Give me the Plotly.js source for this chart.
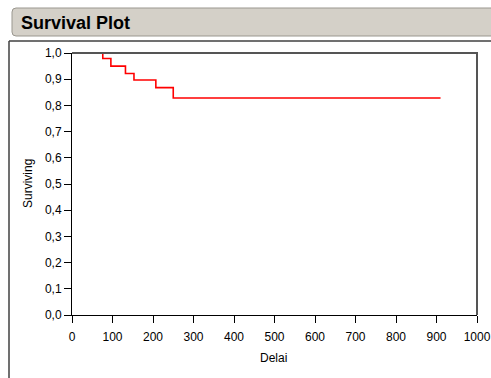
<!DOCTYPE html>
<html>
<head>
<meta charset="utf-8">
<script src="https://cdn.plot.ly/plotly-3.0.1.min.js"></script>
<style>html,body{margin:0;padding:0;background:#fff;}#chart{width:491px;height:378px;}</style>
</head>
<body>
<div id="chart"></div>
<script>
// Data
const delai = [76, 96, 132, 153, 207, 250, 910];
const surviving = [0.979, 0.950, 0.922, 0.897, 0.868, 0.828, 0.828];
const xTicks = [0, 100, 200, 300, 400, 500, 600, 700, 800, 900, 1000];
const yTicks = [0, 0.1, 0.2, 0.3, 0.4, 0.5, 0.6, 0.7, 0.8, 0.9, 1.0];

// step curve starting at 1.0 at the first time
const xs = [delai[0]].concat(delai);
const ys = [1.0].concat(surviving);

const L = 72, R = 477, T = 53, B = 315, W = 491, H = 378;
const px = v => (v - L) / (R - L);
const py = v => (B - v) / (B - T);

// rounded rectangle path in paper coords from pixel box
function roundRect(x0, y0, x1, y1, r) {
  const P = (x, y) => px(x) + ',' + py(y);
  return 'M' + P(x0 + r, y0) + ' L' + P(x1 - r, y0) + ' Q' + P(x1, y0) + ' ' + P(x1, y0 + r) +
    ' L' + P(x1, y1 - r) + ' Q' + P(x1, y1) + ' ' + P(x1 - r, y1) +
    ' L' + P(x0 + r, y1) + ' Q' + P(x0, y1) + ' ' + P(x0, y1 - r) +
    ' L' + P(x0, y0 + r) + ' Q' + P(x0, y0) + ' ' + P(x0 + r, y0) + ' Z';
}

const trace = {
  x: xs, y: ys, type: 'scatter', mode: 'lines',
  line: {shape: 'hv', color: '#ff0000', width: 1.6},
  hoverinfo: 'skip', cliponaxis: false
};

const FONT = 'Liberation Sans, Arial, sans-serif';

const layout = {
  width: W, height: H,
  margin: {l: L, r: W - R, t: T, b: H - B, pad: 0},
  paper_bgcolor: '#ffffff', plot_bgcolor: '#ffffff',
  separators: ',.',
  showlegend: false,
  font: {family: FONT, size: 12, color: '#000'},
  xaxis: {
    range: [0, 1000], tickvals: xTicks, ticktext: xTicks.map(String),
    ticks: 'outside', ticklen: 7, tickcolor: '#000', tickwidth: 1,
    ticklabelstandoff: 4,
    showline: true, linecolor: '#000', linewidth: 1, showgrid: false, zeroline: false,
    tickfont: {size: 12, color: '#000'}
  },
  yaxis: {
    range: [0, 1], tickvals: yTicks, tickformat: '.1f',
    ticks: 'outside', ticklen: 7, tickcolor: '#000', tickwidth: 1,
    showline: true, linecolor: '#000', linewidth: 1, showgrid: false, zeroline: false,
    tickfont: {size: 12, color: '#000'}
  },
  shapes: [
    // title bar
    {type: 'path', xref: 'paper', yref: 'paper', path: roundRect(12, 8, 505, 36, 4),
     fillcolor: '#d4d0c8', line: {color: '#9a978f', width: 1}, layer: 'below'},
    // outer frame
    {type: 'line', xref: 'paper', yref: 'paper', x0: px(9), x1: px(495), y0: py(41), y1: py(41),
     line: {color: '#404040', width: 1.5}},
    {type: 'line', xref: 'paper', yref: 'paper', x0: px(9), x1: px(9), y0: py(41), y1: py(380),
     line: {color: '#404040', width: 1.5}},
    // plot frame top and right
    {type: 'line', xref: 'paper', yref: 'paper', x0: px(72), x1: px(478), y0: py(53), y1: py(53),
     line: {color: '#555555', width: 2}},
    {type: 'line', xref: 'paper', yref: 'paper', x0: px(477), x1: px(477), y0: py(53), y1: py(315),
     line: {color: '#555555', width: 2}}
  ],
  annotations: [
    {text: '<b>Survival Plot</b>', xref: 'paper', yref: 'paper', x: px(19), y: py(23),
     xanchor: 'left', yanchor: 'middle', showarrow: false,
     font: {family: FONT, size: 18, color: '#000'}},
    {text: 'Delai', xref: 'paper', yref: 'paper', x: px(273), y: py(358),
     xanchor: 'center', yanchor: 'middle', showarrow: false,
     font: {family: FONT, size: 12, color: '#000'}},
    {text: 'Surviving', xref: 'paper', yref: 'paper', x: px(28), y: py(184), textangle: -90,
     xanchor: 'center', yanchor: 'middle', showarrow: false,
     font: {family: FONT, size: 12, color: '#000'}}
  ]
};

Plotly.newPlot('chart', [trace], layout, {displayModeBar: false, staticPlot: true});
</script>
</body>
</html>
